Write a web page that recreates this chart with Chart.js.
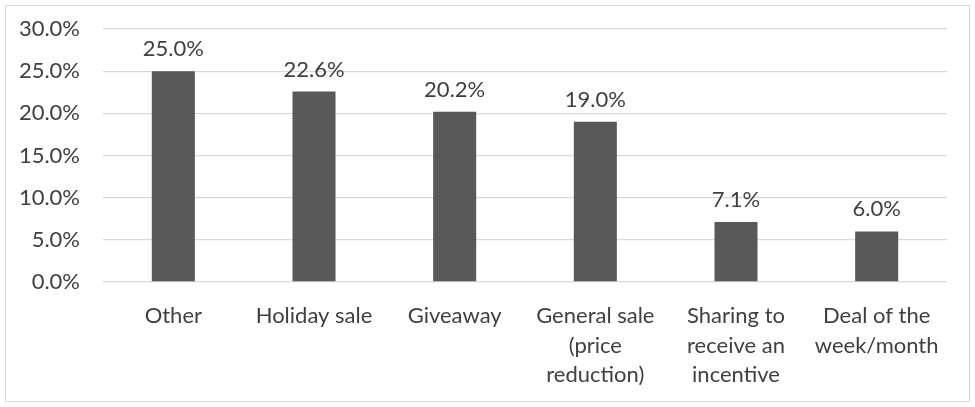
<!DOCTYPE html>
<html>
<head>
<meta charset="utf-8">
<script src="https://cdn.jsdelivr.net/npm/chart.js@4"></script>
<style>
body { margin: 0; background: #fff; }
#box { position: absolute; left: 5px; top: 5px; width: 963px; height: 395px; border: 1px solid #d9d9d9; }
</style>
</head>
<body>
<div id="box"><canvas id="myChart"></canvas></div>
<script>
var categories = [["Other"], ["Holiday sale"], ["Giveaway"], ["General sale", "(price", "reduction)"], ["Sharing to", "receive an", "incentive"], ["Deal of the", "week/month"]];
var shares = [25.0, 22.6, 20.2, 19.0, 7.1, 6.0];
var yTicks = [0, 5, 10, 15, 20, 25, 30];

var fontName = "Lato, 'Liberation Sans', sans-serif";
var fontSize = 22;

// labels over bars
var valueLabels = {
  id: "valueLabels",
  afterDatasetsDraw: function(chart) {
    var ctx = chart.ctx;
    var meta = chart.getDatasetMeta(0);
    ctx.save();
    ctx.font = fontSize + "px " + fontName;
    ctx.fillStyle = "#404040";
    ctx.textAlign = "center";
    ctx.textBaseline = "middle";
    meta.data.forEach(function(bar, i) {
      ctx.fillText(shares[i].toFixed(1) + "%", bar.x, bar.y - 22);
    });
    ctx.restore();
  }
};

new Chart("myChart", {
  type: "bar",
  data: {
    labels: categories,
    datasets: [{
      data: shares,
      backgroundColor: "#595959",
      categoryPercentage: 1,
      barPercentage: 0.306
    }]
  },
  plugins: [valueLabels],
  options: {
    responsive: true,
    maintainAspectRatio: false,
    animation: false,
    layout: { padding: { top: 23, right: 22, left: 0, bottom: 0 } },
    plugins: { legend: { display: false }, tooltip: { enabled: false } },
    scales: {
      x: {
        grid: { display: false },
        border: { display: false },
        ticks: { color: "#404040", font: { family: fontName, size: fontSize, lineHeight: 1.35 }, padding: 11, maxRotation: 0, autoSkip: false },
        afterFit: function(s) { s.height = 119; }
      },
      y: {
        min: 0, max: 30,
        afterBuildTicks: function(s) { s.ticks = yTicks.map(function(v) { return { value: v }; }); },
        grid: { color: "#d9d9d9", lineWidth: 1.3, drawTicks: false },
        border: { display: false },
        ticks: { color: "#404040", font: { family: fontName, size: fontSize }, padding: 23,
          callback: function(v) { return v.toFixed(1) + "%"; } },
        afterFit: function(s) { s.width = 97; s.paddingTop = 0; s.paddingBottom = 0; }
      }
    }
  }
});
</script>
</body>
</html>
